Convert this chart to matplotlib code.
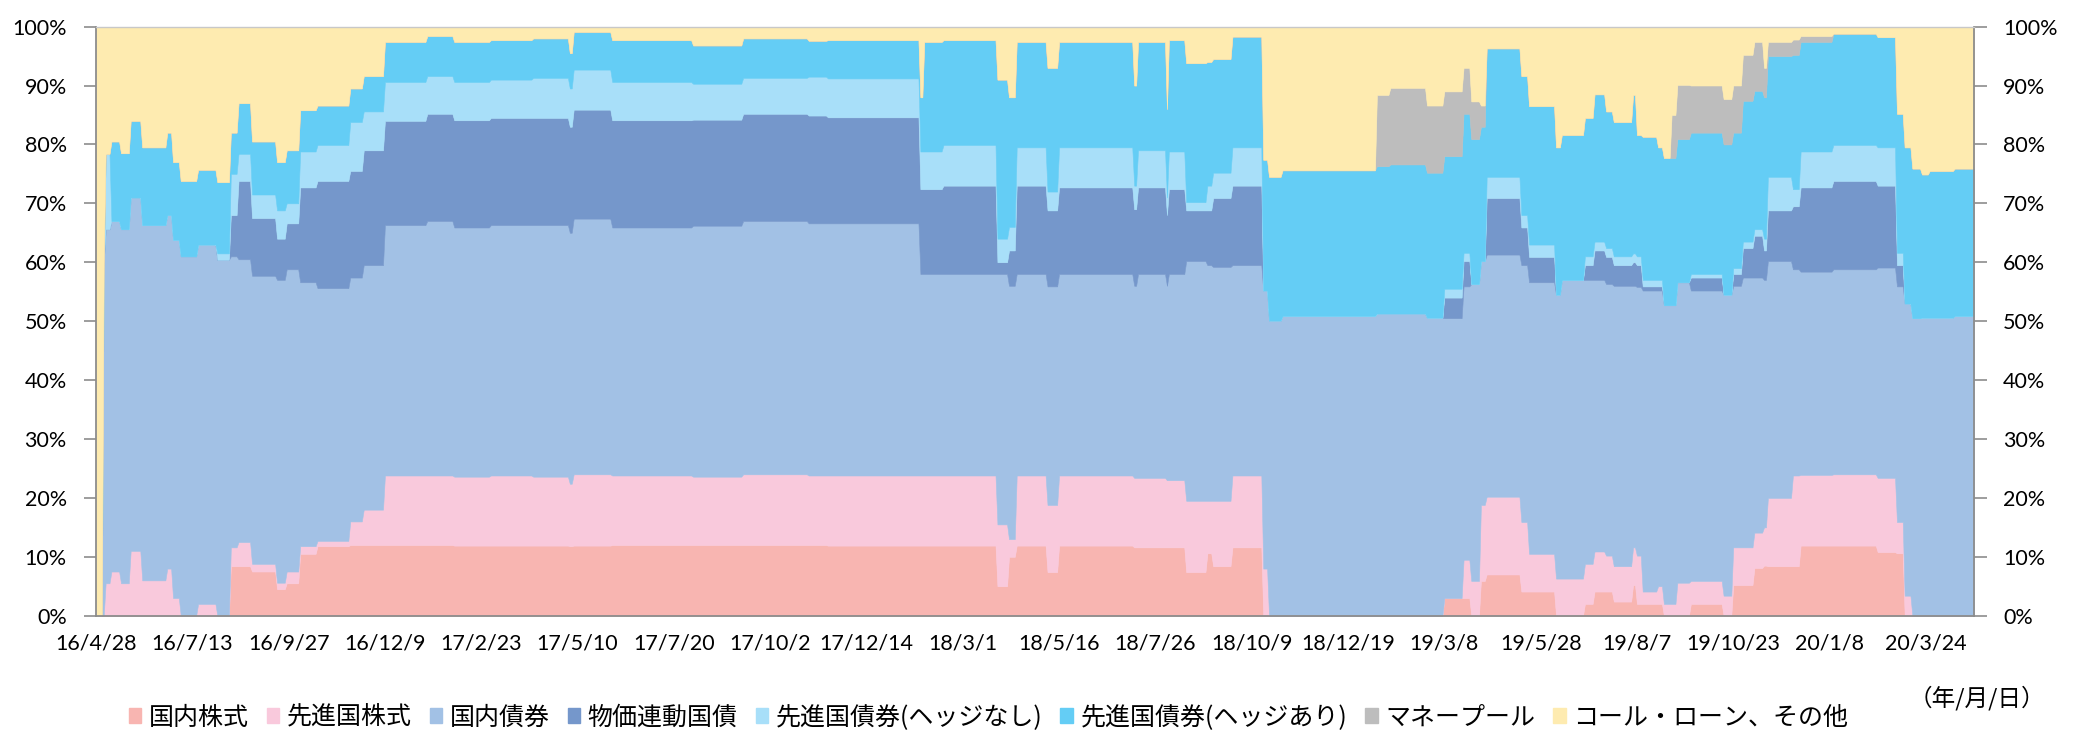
import numpy as np
import matplotlib
matplotlib.use("Agg")
import matplotlib.pyplot as plt
from matplotlib.patches import Patch
from matplotlib.font_manager import FontProperties

# ---- data (percent of fund), piecewise-constant segments of business days ----
seg_days = [4, 1, 3, 5, 5, 6, 13, 3, 4, 9, 10, 7, 4, 7, 13, 5, 7, 9, 17, 7, 11, 22, 14, 19,
            22, 19, 2, 20, 42, 26, 34, 10, 48, 2, 10, 28, 6, 4, 16, 6, 39, 2, 15, 1, 9, 11,
            3, 10, 16, 3, 7, 49, 7, 19, 9, 10, 4, 5, 3, 18, 4, 14, 3, 12, 5, 6, 4, 10, 2, 3,
            8, 3, 4, 3, 7, 17, 5, 5, 6, 5, 2, 13, 4, 17, 23, 10, 4, 4, 5, 4, 13, 11]

dom_equity = [0, 0, 0, 0, 0, 0, 0, 0, 0, 0, 0, 0, 8.4, 8.4, 7.5, 4.5, 5.5, 10.5, 11.8, 12, 12, 12,
              12, 11.9, 11.9, 11.9, 11.8, 11.9, 12, 12, 12, 12, 11.9, 11.9, 11.9, 11.9, 5, 10,
              11.9, 7.4, 11.9, 11.6, 11.6, 11.6, 11.6, 7.4, 10.6, 8.4, 11.6, 0, 0, 0, 0, 0, 0,
              3, 3, 0, 5.9, 7, 4.1, 4.1, 0, 0, 2, 4.1, 4.1, 2.4, 5.2, 2, 2, 2, 0, 0, 0, 2, 0,
              5.2, 5.2, 8.1, 8.5, 8.4, 8.4, 11.9, 11.9, 10.8, 10.6, 0, 0, 0, 0, 0]

dev_equity = [0, 0, 5.5, 7.5, 5.5, 11, 6, 8, 3, 0, 2, 0, 3.2, 4.1, 1.3, 1.1, 2, 1.3, 0.9, 4, 6,
              11.8, 11.8, 11.7, 11.9, 11.7, 10.6, 12.1, 11.8, 11.6, 12, 11.8, 11.9, 11.9, 11.9,
              11.9, 10.5, 3, 11.9, 11.4, 11.9, 11.8, 11.8, 11.4, 11.4, 12.1, 8.9, 11.1, 12.2, 8,
              0, 0, 0, 0, 0, 0, 6.5, 5.9, 12.9, 13.2, 11.8, 6.4, 6.3, 6.3, 6.8, 6.8, 6.1, 6, 6.4,
              8.2, 2.1, 3, 2, 2, 5.6, 3.9, 3.4, 6.4, 6.4, 6, 6.5, 11.6, 15.4, 12, 12.1, 12.6, 5.3,
              3.4, 0, 0, 0, 0]

dom_bond = [0, 60, 60.1, 59.5, 60.1, 60, 60.3, 60, 60.8, 61, 61, 60.4, 49.4, 48, 48.9, 51.4, 51.3,
            44.8, 42.9, 41.4, 41.5, 42.5, 43.2, 42.3, 42.5, 42.7, 42.6, 43.4, 42.1, 42.6, 43, 42.8,
            42.8, 34.2, 34.2, 34.2, 42.5, 43, 34.2, 37.1, 34.2, 32.6, 34.6, 33, 35, 40.7, 40, 39.7,
            35.7, 47.2, 50.1, 50.9, 51.3, 51.3, 50.6, 47.5, 46.4, 50.4, 41.4, 41.1, 43.6, 46.1,
            48.2, 50.7, 48.2, 46.1, 46.1, 47.6, 44.4, 45.6, 51.1, 50.2, 50.7, 50.7, 51, 49.3, 51.1,
            44.4, 45.8, 43.3, 42, 40.2, 35, 34.5, 34.8, 35.7, 40, 49.6, 50.5, 50.6, 50.6, 50.9]

linker_jgb = [0, 0, 0, 0, 0, 0, 0, 0, 0, 0, 0, 0, 7, 13.3, 9.8, 7, 7.8, 16.1, 18.2, 18.1, 19.5,
              17.7, 18.2, 18.2, 18.2, 18.2, 18, 18.5, 18.2, 18, 18.2, 18.3, 18, 14.4, 14.4, 15, 2,
              6, 15, 12.9, 14.7, 13, 14.7, 12, 14.4, 8.6, 9.3, 11.7, 13.5, 0, 0, 0, 0, 0, 0, 3.5,
              4.3, 0, 0, 9.6, 6.4, 4.3, 0, 0, 2.5, 5, 4.6, 3.5, 4, 3.7, 0.7, 0.7, 0, 0, 0, 2.2, 0,
              2, 5, 7.1, 5, 8.6, 10.7, 14.3, 15, 13.9, 3.6, 0, 0, 0, 0, 0]

dev_bond_unhedged = [0, 0, 12.8, 0, 0, 0, 0, 0, 0, 0, 0, 1.1, 7, 4.6, 4, 4.8, 3.4, 6.1, 6.1, 8.3,
                     6.6, 6.6, 6.4, 6.5, 6.5, 6.8, 6.5, 6.8, 6.5, 6.1, 6.1, 6.6, 6.6, 6.4, 6.4, 6.9,
                     4, 4, 6.5, 3.2, 6.8, 4, 6.3, 3, 6.4, 1.4, 4.2, 4.3, 6.5, 0, 0, 0, 0, 0, 0, 1.5,
                     1.4, 0, 0, 3.6, 2.1, 2.1, 0, 0, 1.5, 1.5, 1.5, 1.5, 1.5, 1.5, 1.1, 1.1, 0, 0,
                     0, 0.6, 0, 1, 1.1, 1.1, 2, 5.7, 2.9, 6.1, 6.1, 6.5, 2.1, 0, 0, 0, 0, 0]

dev_bond_hedged = [0, 0, 0, 13.5, 12.9, 13, 13.2, 14, 13.2, 12.8, 12.7, 12.1, 7, 8.6, 9, 8.2, 9,
                   7, 6.7, 5.7, 6, 6.8, 6.8, 6.8, 6.7, 6.7, 6, 6.4, 7.1, 6.5, 6.7, 6.1, 6.5, 9.2,
                   18.6, 17.8, 27, 22, 17.9, 21, 17.9, 17, 18.4, 15, 18.9, 23.6, 21, 19.3, 18.8,
                   22.2, 24.4, 24.7, 25, 25.3, 24.6, 22.5, 23.6, 24.6, 22.8, 21.8, 23.6, 23.5, 25,
                   24.6, 23.5, 25, 23.2, 22.8, 26.9, 20.6, 24.3, 22.5, 25, 25, 24.3, 24, 25.5, 23,
                   23.9, 23.5, 24, 20.5, 22.8, 18.6, 18.9, 18.7, 23.6, 26.5, 25.4, 24.3, 24.9, 25]

money_pool = [0, 0, 0, 0, 0, 0, 0, 0, 0, 0, 0, 0, 0, 0, 0, 0, 0, 0, 0, 0, 0, 0, 0, 0, 0, 0, 0, 0,
              0, 0, 0, 0, 0, 0, 0, 0, 0, 0, 0, 0, 0, 0, 0, 0, 0, 0, 0, 0, 0, 0, 0, 0, 12.1, 13, 11.4,
              11, 7.8, 6.4, 3.6, 0, 0, 0, 0, 0, 0, 0, 0, 0, 0, 0, 0, 0, 0, 7.3, 9.2, 8, 7.7, 8,
              7.8, 8.3, 5, 2.4, 2.6, 1, 0, 0, 0, 0, 0, 0, 0, 0]

call_other = [100, 40, 21.6, 19.5, 21.5, 16, 20.5, 18, 23, 26.2, 24.3, 26.4, 18, 13, 19.5, 23, 21,
              14.2, 13.4, 10.5, 8.4, 2.6, 1.6, 2.6, 2.3, 2, 4.5, 0.9, 2.3, 3.2, 2, 2.4, 2.3, 12,
              2.6, 2.3, 9, 12, 2.6, 7, 2.6, 10, 2.6, 14, 2.3, 6.2, 6, 5.5, 1.7, 22.6, 25.5, 24.4,
              11.6, 10.4, 13.4, 11, 7, 12.7, 13.4, 3.7, 8.4, 13.5, 20.5, 18.4, 15.5, 11.5, 14.4,
              16.2, 11.6, 18.4, 18.7, 20.5, 22.3, 15, 9.9, 10, 12.3, 10, 4.8, 2.6, 7, 2.6, 2.2,
              1.6, 1.2, 1.8, 14.8, 20.5, 24.1, 25.1, 24.5, 24.1]

tick_labels = ["16/4/28", "16/7/13", "16/9/27", "16/12/9", "17/2/23", "17/5/10", "17/7/20",
               "17/10/2", "17/12/14", "18/3/1", "18/5/16", "18/7/26", "18/10/9", "18/12/19",
               "19/3/8", "19/5/28", "19/8/7", "19/10/23", "20/1/8", "20/3/24"]

series_names = ["国内株式", "先進国株式", "国内債券", "物価連動国債", "先進国債券(ヘッジなし)",
                "先進国債券(ヘッジあり)", "マネープール", "コール・ローン、その他"]
colors = ["#F8B5B1", "#F9C9DC", "#A2C1E5", "#7597CB", "#A8DFF9", "#64CDF5", "#BDBDBD", "#FEEBB0"]

series = [dom_equity, dev_equity, dom_bond, linker_jgb, dev_bond_unhedged,
          dev_bond_hedged, money_pool, call_other]

# ---- build daily series ----
daily = [np.repeat(np.asarray(s, dtype=float), seg_days) for s in series]
N = int(sum(seg_days))
x = np.arange(N)

fig = plt.figure(figsize=(20.83, 7.30), dpi=100)
ax = fig.add_axes([0.04609, 0.15658, 0.90158, 0.80699])

polys = ax.stackplot(x, *daily, colors=colors, linewidth=0)
for p, c in zip(polys, colors):
    p.set_edgecolor(c)
    p.set_linewidth(0.4)

ax.set_xlim(0, N - 1)
ax.set_ylim(0, 100)

tick_font = "Lato"
ax.set_yticks(np.arange(0, 101, 10))
ax.set_yticklabels([f"{v}%" for v in range(0, 101, 10)], fontsize=15.5, family=tick_font)
ax.tick_params(axis="y", which="both", left=True, right=True, labelleft=True, labelright=True,
               direction="out", length=9, width=1.2, color="#8C8C8C", pad=12, labelsize=15.5)

xt = np.arange(0, len(tick_labels) * 50, 50)
ax.set_xticks(xt)
ax.set_xticklabels(tick_labels, fontsize=15.5, family=tick_font)
ax.tick_params(axis="x", length=0, pad=13)

for side in ["left", "right", "bottom"]:
    ax.spines[side].set_color("#8C8C8C")
    ax.spines[side].set_linewidth(1.3)
ax.spines["top"].set_color("#C8C8C8")
ax.spines["top"].set_linewidth(1.0)

for t in ax.yaxis.get_major_ticks():
    t.label1.set_family(tick_font)
    t.label2.set_family(tick_font)
    t.label2.set_fontsize(15.5)

cjk = FontProperties(family=["Noto Sans CJK JP", "DejaVu Sans"], size=18)
handles = [Patch(facecolor=c, edgecolor=c) for c in colors]
fig.legend(handles, series_names, loc="center", bbox_to_anchor=(0.4745, 0.017), ncol=8,
           frameon=False, prop=cjk, handlelength=0.5, handleheight=0.55, handletextpad=0.3,
           columnspacing=0.72, borderpad=0, borderaxespad=0)

fig.text(0.982, 0.043, "（年/月/日）", ha="right", va="center",
         fontproperties=FontProperties(family=["Noto Sans CJK JP", "DejaVu Sans"], size=17))

fig.savefig("out.png", dpi=100, facecolor="white")
